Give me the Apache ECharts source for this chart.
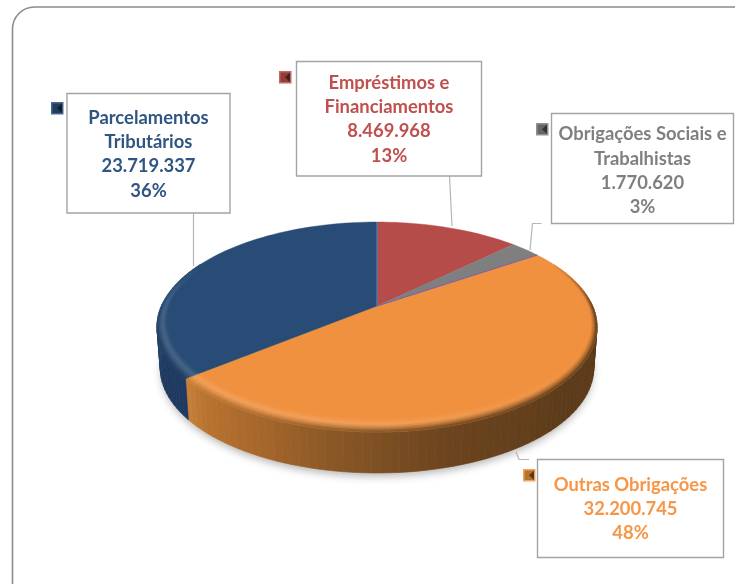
<!DOCTYPE html>
<html><head><meta charset="utf-8">
<style>html,body{margin:0;padding:0;background:#fff}#c{width:735px;height:584px}</style>
<script src="https://cdn.jsdelivr.net/npm/echarts@6/dist/echarts.min.js"></script>
</head><body><div id="c"></div>
<script>
// ---- data
var categories = ['Empréstimos e\nFinanciamentos', 'Obrigações Sociais e\nTrabalhistas', 'Outras Obrigações', 'Parcelamentos\nTributários'];
var values = [8469968, 1770620, 32200745, 23719337];
var percentLabels = ['13%', '3%', '48%', '36%'];
// ---- styles
var topColors = ['#b64c49', '#7f7f7f', '#f0913f', '#284c75'];
var textColors = ['#c0504d', '#7f7f7f', '#f79646', '#2f5583'];
var wallStops = [
  [[0, '#7a3230'], [360, '#7a3230']],
  [[0, '#555555'], [360, '#555555']],
  [[90, '#5a391a'], [130, '#5c3b1a'], [165, '#6c441e'], [190, '#8a5826'], [205, '#a4662b'], [222, '#b8722f'], [232, '#c9823c']],
  [[228, '#1f3a60'], [250, '#1e3a5f'], [262, '#234468'], [272, '#264a72']]
];
// ---- layout
var PIE = {x: 377, y: 306, a: 215.6, b: 100.8, k: 0.2, depth: 41, shrink: 0.985};
var boxes = [
  {x: 296.5, y: 61.5, w: 185, h: 114.5, ty: 70.5, key: [279, 71], line: [[449.5, 176], [452, 226]]},
  {x: 551.5, y: 113.5, w: 182, h: 110, ty: 122, key: [536, 123], line: [[541.5, 223.5], [532.5, 223.5], [530, 250]]},
  {x: 537.5, y: 459.5, w: 186, h: 98, ty: 472.5, key: [523, 469], line: [[529, 459.5], [519, 459.5], [516, 452]]},
  {x: 67, y: 93.5, w: 163, h: 119.5, ty: 105.5, key: [51, 102], line: [[193.5, 213], [193.5, 266]]}
];
var total = values.reduce(function (s, v) { return s + v; }, 0);

function project(deg, r) {
  var t = deg * Math.PI / 180, u = r * Math.sin(t), v = r * Math.cos(t), w = 1 + PIE.k * v;
  return [PIE.x + PIE.a * u / w, PIE.y - PIE.b * v / w];
}
function lower(p) { return [PIE.x + (p[0] - PIE.x) * PIE.shrink, p[1] + PIE.depth]; }
function hex(c) { return [parseInt(c.substr(1, 2), 16), parseInt(c.substr(3, 2), 16), parseInt(c.substr(5, 2), 16)]; }
function mix(a, b, t) {
  var A = hex(a), B = hex(b);
  return '#' + [0, 1, 2].map(function (i) {
    return ('0' + Math.round(A[i] + (B[i] - A[i]) * t).toString(16)).slice(-2);
  }).join('');
}
function wallColor(i, deg) {
  var s = wallStops[i];
  if (deg <= s[0][0]) return s[0][1];
  for (var j = 1; j < s.length; j++) {
    if (deg <= s[j][0]) return mix(s[j - 1][1], s[j][1], (deg - s[j - 1][0]) / (s[j][0] - s[j - 1][0]));
  }
  return s[s.length - 1][1];
}
function poly(pts, fill, z) {
  return {type: 'polygon', z2: z || 0, silent: true, shape: {points: pts},
          style: {fill: fill, stroke: fill, lineWidth: 0.7}};
}
function startAngle(i) {
  var s = 0;
  for (var j = 0; j < i; j++) s += values[j];
  return s / total * 360;
}

function renderSlice(params, api) {
  var i = params.dataIndex;
  var a0 = startAngle(i), a1 = a0 + api.value(0) / total * 360;
  var step = 2, kids = [], n = Math.max(2, Math.ceil((a1 - a0) / step)), d = (a1 - a0) / n, j, t;
  // side wall (front half only)
  for (j = 0; j < n; j++) {
    var s = a0 + j * d, e = s + d;
    var mid = (s + e) / 2;
    if (mid < 88 || mid > 272) continue;
    var p = project(s, 1), q = project(e, 1);
    kids.push(poly([p, q, lower(q), lower(p)], wallColor(i, mid), 1));
  }
  // top face
  var face = [[PIE.x, PIE.y]];
  for (j = 0; j <= n; j++) face.push(project(a0 + j * d, 1));
  kids.push({type: 'polygon', z2: 2, silent: true, shape: {points: face},
             style: {fill: topColors[i], stroke: topColors[i], lineWidth: 0.4}});
  // bevel at the rim: inner edge melts into the top colour, outer edge into the wall colour
  var rings = 8;
  for (j = 0; j < n; j++) {
    var b0 = a0 + j * d, b1 = b0 + d, m = (b0 + b1) / 2;
    var cv = Math.cos(m * Math.PI / 180);
    var strength = Math.min(1, Math.max(0, (0.45 - cv) / 0.45));
    if (strength <= 0) continue;
    var bw = 0.035 + 0.05 * Math.max(0, -cv);
    var wc = wallColor(i, m);
    var light = mix(topColors[i], '#ffffff', 0.14 * (1 - Math.max(0, Math.sin(m * Math.PI / 180))));
    for (t = 0; t < rings; t++) {
      var f = (t + 0.5) / rings, col;
      if (f < 0.4) col = mix(topColors[i], light, f / 0.4 * strength);
      else col = mix(mix(topColors[i], light, strength), wc, Math.pow((f - 0.4) / 0.6, 1.4) * strength);
      var r0 = 1 - bw * (1 - t / rings), r1 = 1 - bw * (1 - (t + 1) / rings);
      kids.push(poly([project(b0, r0), project(b1, r0), project(b1, r1), project(b0, r1)], col, 3 + t));
    }
  }
  return {type: 'group', children: kids};
}

function separators(params) {
  var a = startAngle(params.dataIndex);
  var colors = ['#4f81bd', '#b64c49', '#7a5fa8', '#284c75'];
  var e = project(a, 1);
  return {type: 'line', z2: 5, silent: true,
          shape: {x1: PIE.x, y1: PIE.y, x2: e[0], y2: e[1]},
          style: {stroke: colors[params.dataIndex], lineWidth: params.dataIndex === 0 || params.dataIndex === 2 ? 1.2 : 0}};
}

var pt = new Intl.NumberFormat('pt-BR');
var graphics = [];
// frame
graphics.push({type: 'rect', z: 0, silent: true, shape: {x: 12.5, y: 7, width: 800, height: 620, r: 22},
               style: {fill: '#fff', stroke: '#8c8c8c', lineWidth: 1.6}});
// soft shadow under the pie
var shadowPts = [];
for (var g = 0; g < 360; g += 3) {
  var lp = lower(project(g, 0.995));
  shadowPts.push([lp[0], lp[1] + 2]);
}
graphics.push({type: 'polygon', z: 1, silent: true, shape: {points: shadowPts},
               style: {fill: '#cfcfcf', shadowColor: 'rgba(0,0,0,0.3)', shadowBlur: 9, shadowOffsetY: 2}});
boxes.forEach(function (b, i) {
  graphics.push({type: 'polyline', z: 8, silent: true, shape: {points: b.line},
                 style: {fill: 'none', stroke: '#b5b5b5', lineWidth: 1.2}});
  graphics.push({type: 'rect', z: 9, silent: true, shape: {x: b.x, y: b.y, width: b.w, height: b.h},
                 style: {fill: '#fff', stroke: '#a3a3a3', lineWidth: 1.4}});
  var txt = categories[i] + '\n' + pt.format(values[i]) + '\n' + percentLabels[i];
  graphics.push({type: 'text', z: 10, silent: true, x: b.x + b.w / 2, y: b.ty,
                 style: {text: txt, fill: textColors[i], font: 'bold 18.4px Lato', align: 'center', verticalAlign: 'top', lineHeight: 24.4}});
  // legend key
  var kx = b.key[0], ky = b.key[1], S = 12.5, base = topColors[i];
  var dark = i === 2 ? '#5a391a' : mix(base, '#000000', 0.6);
  var mid = i === 2 ? '#b8722f' : mix(base, '#000000', 0.2);
  graphics.push({type: 'rect', z: 10, silent: true, shape: {x: kx, y: ky, width: S, height: S}, style: {fill: mix(base, '#ffffff', 0.15)}});
  graphics.push({type: 'rect', z: 10, silent: true, shape: {x: kx + 1.5, y: ky + 1.5, width: S - 3, height: S - 3}, style: {fill: mid}});
  graphics.push({type: 'polygon', z: 10, silent: true,
                 shape: {points: [[kx + S - 1.5, ky + 1.5], [kx + S - 1.5, ky + S - 1.5], [kx + 6, ky + S / 2]]}, style: {fill: dark}});
});

var chart = echarts.init(document.getElementById('c'), null, {renderer: 'canvas'});
chart.setOption({
  animation: false,
  backgroundColor: '#fff',
  graphic: {elements: graphics},
  series: [
    {type: 'custom', coordinateSystem: 'none', z: 3, silent: true, clip: false,
     data: values.map(function (v) { return [v]; }), encode: {}, renderItem: renderSlice},
    {type: 'custom', coordinateSystem: 'none', z: 4, silent: true, clip: false,
     data: values.map(function (v) { return [v]; }), renderItem: separators}
  ]
});
</script></body></html>
